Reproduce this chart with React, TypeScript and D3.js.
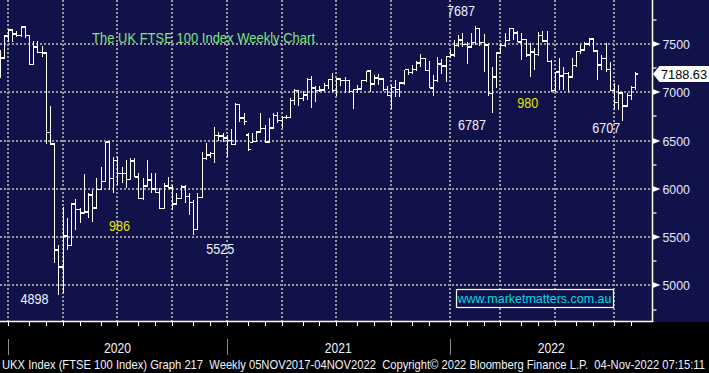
import React from 'react'
import * as d3 from 'd3'

// weekly OHLC, FTSE 100, weeks ending Fri 13 Dec 2019 .. Fri 4 Nov 2022
const opens = [
  7220, 7353, 7582, 7645, 7605, 7588, 7675, 7586, 7286, 7466, 7409, 7404, 6581, 6462, 5366, 5191,
  5510, 5416, 5843, 5787, 5752, 5763, 5936, 5800, 5993, 6076, 6484, 6105, 6292, 6159, 6157, 6095,
  6290, 6123, 5898, 6032, 6090, 6001, 5964, 5799, 6032, 6007, 5842, 5902, 6017, 5919, 5860, 5577,
  5910, 6316, 6351, 6367, 6550, 6547, 6529, 6502, 6461, 6873, 6736, 6560, 6480, 6489, 6589, 6624,
  6483, 6630, 6761, 6709, 6741, 6737, 6916, 7020, 6938, 6970, 7130, 7044, 7018, 7023, 7069, 7134,
  7017, 7136, 7123, 7122, 7008, 7028, 7032, 7123, 7218, 7087, 7148, 7138, 7029, 6964, 7051, 7027,
  7096, 7234, 7205, 7237, 7304, 7348, 7224, 7044, 7122, 7292, 7270, 7372, 7385, 7485, 7543, 7494,
  7466, 7516, 7661, 7514, 7489, 6987, 7156, 7405, 7483, 7538, 7660, 7616, 7522, 7545, 7388, 7418,
  7390, 7585, 7533, 7318, 7016, 7209, 7169, 7196, 7159, 7276, 7423, 7440, 7501, 7550, 7427, 7281,
  7351, 7236, 7019, 6894, 6991, 6858, 6969, 7047,
]
const highs = [
  7438, 7593, 7652, 7650, 7630, 7686, 7680, 7590, 7535, 7534, 7480, 7404, 6858, 6462, 5420, 5816,
  5696, 5851, 5892, 5799, 6155, 5955, 5989, 6110, 6230, 6489, 6489, 6334, 6334, 6230, 6299, 6317,
  6317, 6161, 6110, 6299, 6161, 6168, 6006, 6058, 6127, 6040, 5954, 6041, 6041, 5954, 5885, 5954,
  6386, 6472, 6386, 6644, 6593, 6575, 6560, 6620, 6886, 6880, 6790, 6580, 6575, 6600, 6790, 6660,
  6730, 6782, 6800, 6750, 6765, 6940, 7030, 7025, 7010, 7145, 7165, 7060, 7060, 7100, 7140, 7200,
  7145, 7145, 7160, 7130, 7030, 7070, 7130, 7225, 7225, 7180, 7190, 7150, 7060, 7080, 7130, 7110,
  7235, 7240, 7280, 7320, 7400, 7350, 7320, 7180, 7370, 7340, 7380, 7440, 7541, 7590, 7610, 7520,
  7610, 7687, 7665, 7600, 7507, 7265, 7421, 7507, 7610, 7670, 7665, 7630, 7610, 7550, 7507, 7455,
  7628, 7638, 7638, 7330, 7214, 7352, 7265, 7214, 7352, 7430, 7490, 7524, 7559, 7560, 7438, 7386,
  7507, 7317, 7093, 7076, 7000, 6989, 7060, 7214,
]
const lows = [
  7145, 7340, 7524, 7525, 7570, 7575, 7560, 7280, 7280, 7403, 7362, 6460, 6455, 5237, 4898, 4919,
  5368, 5410, 5575, 5650, 5747, 5696, 5661, 5790, 5989, 6070, 5989, 5961, 6041, 6058, 6006, 6090,
  6120, 5892, 5885, 6023, 5961, 5954, 5790, 5790, 6006, 5782, 5834, 5895, 5851, 5730, 5525, 5570,
  5903, 6300, 6317, 6272, 6500, 6480, 6334, 6455, 6455, 6690, 6660, 6396, 6470, 6480, 6580, 6470,
  6480, 6620, 6680, 6630, 6720, 6730, 6870, 6860, 6910, 6920, 6840, 6900, 7000, 7010, 7030, 7000,
  6960, 7060, 6990, 6990, 6830, 6990, 7020, 7110, 7000, 7070, 7080, 7010, 6960, 6830, 6950, 6950,
  7076, 7180, 7190, 7225, 7260, 7220, 7040, 6960, 7110, 7190, 7110, 7350, 7370, 7470, 7470, 7290,
  7455, 7490, 7480, 7206, 6959, 6787, 7041, 7400, 7470, 7530, 7540, 7520, 7334, 7369, 7162, 7231,
  7380, 7524, 7317, 7007, 7007, 7024, 7024, 7007, 7150, 7265, 7400, 7430, 7480, 7421, 7127, 7231,
  7214, 7010, 6817, 6817, 6707, 6850, 6920, 7024,
]
const closes = [
  7353, 7582, 7645, 7605, 7588, 7675, 7586, 7286, 7466, 7409, 7404, 6581, 6462, 5366, 5191, 5510,
  5416, 5843, 5787, 5752, 5763, 5936, 5800, 5993, 6076, 6484, 6105, 6292, 6159, 6157, 6095, 6290,
  6123, 5898, 6032, 6090, 6001, 5964, 5799, 6032, 6007, 5842, 5902, 6017, 5919, 5860, 5577, 5910,
  6316, 6351, 6367, 6550, 6547, 6529, 6502, 6461, 6873, 6736, 6695, 6407, 6489, 6589, 6624, 6483,
  6630, 6761, 6709, 6741, 6737, 6916, 7020, 6938, 6970, 7130, 7044, 7018, 7023, 7069, 7134, 7017,
  7136, 7123, 7122, 7008, 7028, 7032, 7123, 7218, 7087, 7148, 7138, 7029, 6964, 7051, 7027, 7096,
  7234, 7205, 7237, 7304, 7348, 7224, 7044, 7122, 7292, 7270, 7372, 7385, 7485, 7543, 7494, 7466,
  7516, 7661, 7514, 7489, 6987, 7156, 7405, 7483, 7538, 7660, 7616, 7522, 7545, 7388, 7418, 7390,
  7585, 7533, 7318, 7016, 7209, 7169, 7196, 7159, 7276, 7423, 7440, 7501, 7550, 7427, 7281, 7351,
  7236, 7019, 6894, 6991, 6858, 6969, 7047, 7189,
]

const yTicks = [5000, 5500, 6000, 6500, 7000, 7500]
const yMinorTicks = [4750, 5250, 5750, 6250, 6750, 7250, 7750]
const years = ['2020', '2021', '2022']
const lastPrice = 7188.63

// text notes: [label, week index, value, dx, dy, anchor, colour]
const notes: [string, number, number, number, number, string, string][] = [
  ['4898', 14, 4898, -38, 9, 'start', '#eef3ff'],
  ['986', 26, 5560, 0, 0, 'start', '#e6e600'],
  ['5525', 46, 5525, 13, 19, 'start', '#eef3ff'],
  ['7687', 113, 7687, 0, -9.5, 'end', '#eef3ff'],
  ['6787', 117, 6787, -6, 17, 'end', '#eef3ff'],
  ['980', 123, 6835, 0, 0, 'start', '#e6e600'],
  ['6707', 148, 6707, -2, 12.7, 'end', '#eef3ff'],
]

const title = 'The UK FTSE 100 Index Weekly Chart'
const footer =
  'UKX Index (FTSE 100 Index) Graph 217  Weekly 05NOV2017-04NOV2022  Copyright\u00a9 2022 Bloomberg Finance L.P.  04-Nov-2022 07:15:11'

const W = 709
const H = 373
const plotBottom = 322
const axisX = 652.5
const font = '"Liberation Sans", Arial, sans-serif'
const navy = '#12124a'
const grid = '#9a9a9a'

const App = () => {
  const weeks = d3.timeFriday.range(new Date(2019, 11, 13), new Date(2022, 10, 5))
  const x = d3.scaleLinear().domain([0, weeks.length - 1]).range([-0.42, -0.42 + 4.208 * (weeks.length - 1)])
  const y = d3.scaleLinear().domain([4622, 7955]).range([plotBottom, 0])

  // gridlines and month ticks sit on the last bar before the period starts
  const barBefore = (d: Date) => x(d3.bisectLeft(weeks, d) - 1)
  const quarters = d3.timeMonth.every(3)!.range(new Date(2020, 0, 1), new Date(2022, 10, 5))
  const months = d3.timeMonth.range(new Date(2020, 0, 1), new Date(2022, 10, 5))
  const yearStarts = years.map((yr) => barBefore(new Date(+yr, 0, 1)))
  const yearEnds = [...yearStarts.slice(1), axisX]

  const tagY = y(lastPrice)

  return (
    <svg width={W} height={H} style={{ position: 'absolute', left: 0, top: 0 }} fontFamily={font}>
      <rect x={0} y={0} width={W} height={plotBottom} fill={navy} />
      <rect x={0} y={plotBottom} width={W} height={H - plotBottom} fill="#000" />

      <defs>
        <clipPath id="plot">
          <rect x={0} y={0} width={axisX} height={plotBottom} />
        </clipPath>
      </defs>

      {/* dotted grid */}
      <g stroke={grid} strokeWidth={2} strokeDasharray="2,2">
        {yTicks.map((t) => (
          <line key={t} x1={0} x2={axisX - 1} y1={Math.round(y(t))} y2={Math.round(y(t))} />
        ))}
        {quarters.map((q) => (
          <line key={+q} x1={Math.round(barBefore(q))} x2={Math.round(barBefore(q))} y1={0} y2={plotBottom} />
        ))}
      </g>

      {/* OHLC bars */}
      <g clipPath="url(#plot)" stroke="#fff" strokeWidth={1.5} shapeRendering="crispEdges">
        {weeks.map((w, i) => {
          const cx = Math.round(x(i)) + 0.5
          return (
            <g key={i}>
              <line x1={cx} x2={cx} y1={y(highs[i])} y2={y(lows[i])} />
              <line x1={cx - 2.5} x2={cx} y1={y(opens[i])} y2={y(opens[i])} />
              <line x1={cx} x2={cx + 2.5} y1={y(closes[i])} y2={y(closes[i])} />
            </g>
          )
        })}
      </g>

      <text x={92} y={43} fontSize={15} textLength={223} lengthAdjust="spacingAndGlyphs" fill="#7de87d">
        {title}
      </text>

      {notes.map(([label, idx, v, dx, dy, anchor, col]) => (
        <text
          key={label}
          x={x(idx) + dx}
          y={y(v) + dy}
          fontSize={14.5}
          textAnchor={anchor}
          textLength={label.length * 7}
          lengthAdjust="spacingAndGlyphs"
          fill={col}
        >
          {label}
        </text>
      ))}

      {/* url box */}
      <rect x={456.5} y={289.5} width={157} height={18} fill={navy} stroke="#fff" strokeWidth={1.2} />
      <text x={457.5} y={303} fontSize={13.5} textLength={154} lengthAdjust="spacingAndGlyphs" fill="#00d8e4">
        www.marketmatters.com.au
      </text>

      {/* right axis */}
      <line x1={axisX} x2={axisX} y1={0} y2={plotBottom} stroke="#fff" strokeWidth={1.5} />
      {yMinorTicks.map((t) => (
        <line key={t} x1={axisX} x2={axisX + 4} y1={Math.round(y(t))} y2={Math.round(y(t))} stroke="#fff" strokeWidth={1.2} />
      ))}
      {yTicks.map((t) => (
        <g key={t} transform={`translate(${axisX},${Math.round(y(t))})`}>
          <path d="M0,-3L8,0L0,3Z" fill="#fff" />
          <text x={10} y={4.8} fontSize={13.5} textLength={27.5} lengthAdjust="spacingAndGlyphs" fill="#e2eaff">
            {d3.format('d')(t)}
          </text>
        </g>
      ))}

      {/* last price tag */}
      <path
        d={`M${axisX + 0.5},${tagY}L${axisX + 7},${tagY - 8}L${W},${tagY - 8}L${W},${tagY + 8}L${axisX + 7},${tagY + 8}Z`}
        fill="#fff"
      />
      <text x={661} y={tagY + 4.8} fontSize={13.5} textLength={46} lengthAdjust="spacingAndGlyphs" fill="#000">
        {d3.format('.2f')(lastPrice)}
      </text>

      {/* bottom time axis */}
      <line x1={0} x2={axisX + 0.75} y1={plotBottom - 0.5} y2={plotBottom - 0.5} stroke="#fff" strokeWidth={1.5} />
      {months.map((m) => (
        <line
          key={+m}
          x1={Math.round(barBefore(m)) + 0.5}
          x2={Math.round(barBefore(m)) + 0.5}
          y1={plotBottom}
          y2={plotBottom + 4}
          stroke="#fff"
          strokeWidth={1}
        />
      ))}
      {yearStarts.map((s, i) => (
        <g key={years[i]}>
          <line x1={Math.round(s) + 0.5} x2={Math.round(s) + 0.5} y1={339} y2={355} stroke="#8c8c8c" strokeWidth={1} />
          <text
            x={(s + yearEnds[i]) / 2}
            y={353}
            fontSize={15}
            textAnchor="middle"
            textLength={27}
            lengthAdjust="spacingAndGlyphs"
            fill="#eef2ff"
          >
            {years[i]}
          </text>
        </g>
      ))}
      <g transform="translate(2,369) scale(1,1.2)">
        <text
          x={0}
          y={0}
          fontSize={11.2}
          textLength={703}
          lengthAdjust="spacingAndGlyphs"
          fill="#eef2ff"
          style={{ whiteSpace: 'pre' }}
        >
          {footer}
        </text>
      </g>
    </svg>
  )
}

export default App
